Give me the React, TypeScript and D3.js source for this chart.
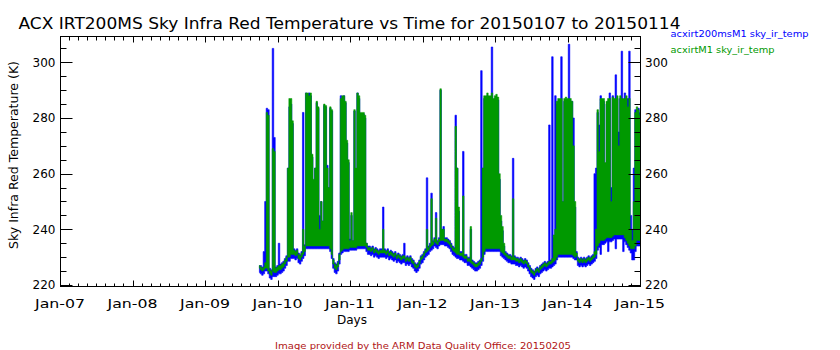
import React from "react";
import * as d3 from "d3";

// ---------- data ----------
const TITLE = "ACX IRT200MS Sky Infra Red Temperature vs Time for 20150107 to 20150114";
const Y_LABEL = "Sky Infra Red Temperature (K)";
const X_LABEL = "Days";
const FOOTER = "Image provided by the ARM Data Quality Office: 20150205";
const LEGEND_NAMES = ["acxirt200msM1 sky_ir_temp", "acxirtM1 sky_ir_temp"];
const DAY_LABELS = ["Jan-07", "Jan-08", "Jan-09", "Jan-10", "Jan-11", "Jan-12", "Jan-13", "Jan-14", "Jan-15"];
const Y_TICKS = [220, 240, 260, 280, 300];
const Y_MINOR = [225, 230, 235, 245, 250, 255, 265, 270, 275, 285, 290, 295, 305];
const X_START = Date.UTC(2015, 0, 7);
const X_END = Date.UTC(2015, 0, 15);
const Y_DOMAIN = [219.64, 309.45];
// 30-minute bins starting 2015-01-09 18:00 UTC; each bin holds the min and max of the 1-min samples
const SERIES_START = Date.UTC(2015, 0, 9, 18, 0);
const STEP_MINUTES = 30;

const BLUE_MIN = [
  224.5, 224, 223.5, 224, 225, 225, 224, 222.5, 222, 223,
  223, 223, 223.5, 224, 224, 224.5, 225, 226, 227, 228.5,
  228.5, 229.5, 229.5, 229.5, 229, 229.5, 228, 227.5, 228.5, 229.5,
  230.5, 233, 233, 233, 233, 233, 233, 233, 233, 233,
  233, 233, 233, 233, 233, 233, 233, 232, 229.5, 226,
  224.5, 224, 225, 227.5, 231, 231.5, 232, 232, 232, 232,
  232.5, 232.5, 232.5, 232.5, 232.5, 233, 233, 233, 233, 233,
  233, 232, 231, 231, 230.5, 231, 230, 230.5, 230, 229.5,
  230, 230, 230, 230, 229.5, 230, 229, 229.5, 229, 228.5,
  229, 228, 228.5, 228, 227.5, 228, 228, 227, 227.5, 227,
  227.5, 226.5, 226, 225, 224.5, 225, 226, 227.5, 228, 229,
  230, 230.5, 231, 232, 232.5, 233, 234, 233.5, 233, 234,
  234.5, 234.5, 234.5, 234, 234, 233.5, 233, 232, 231, 230.5,
  230, 229.5, 229.5, 229, 229, 228.5, 228, 228, 227, 227,
  226.5, 226, 225.5, 225, 225, 225.5, 226, 227, 228.5, 231,
  232, 232, 232, 232, 232, 232, 232, 232, 232, 232,
  230.5, 230, 229.5, 229, 228.5, 228, 228, 227.5, 227.5, 227.5,
  227, 227, 226.5, 227, 226.5, 226, 226.5, 226, 225, 224,
  223, 222.5, 222, 223, 223.5, 223, 224, 224.5, 225, 225.5,
  225, 225.5, 226, 226, 226.5, 227, 227.5, 229, 230, 230,
  230, 230, 230, 230, 230, 230, 230, 230, 229.5, 229,
  229, 227, 226.5, 227, 226.5, 227, 226.5, 227, 227.5, 227,
  227.5, 228, 228.5, 229.5, 232.5, 233.5, 231, 234.5, 234.5, 235,
  235.5, 232, 235.5, 235.5, 236, 236.5, 233, 236.5, 236.5, 236.5,
  236.5, 232, 235.5, 234.5, 233.5, 232.5, 231.5, 229, 229, 232,
  234, 234, 234,
];

const BLUE_MAX = [
  227, 227, 226.5, 232, 250, 283.5, 283, 226, 225.5, 305,
  273, 226.5, 227, 235, 227.5, 228, 228.5, 229.5, 230.5, 262,
  284, 285, 278, 233, 232.5, 233, 231.5, 231, 232, 282,
  234.5, 289, 288.5, 289, 288, 266, 257, 262, 285.5, 283.5,
  245, 250, 243, 284.5, 284, 263, 255, 283.5, 282.5, 229.5,
  228, 227.5, 228.5, 231.5, 288, 287, 288, 285.5, 271, 264,
  236.5, 245, 236, 282.5, 261, 289, 287, 281.5, 281.5, 281.5,
  280, 235, 234, 234, 233.5, 234, 233, 233.5, 233, 232.5,
  233, 233, 248, 233, 232.5, 233, 232, 232.5, 232, 231.5,
  232, 231, 231.5, 231, 230.5, 231, 235, 230, 230.5, 230,
  230.5, 229.5, 229, 228, 227.5, 228, 229, 230.5, 231, 232,
  233, 258.5, 234, 235, 253, 236, 237, 246, 236, 237,
  290, 240, 241, 237, 237, 236.5, 236, 235, 234, 233.5,
  281, 262, 246.5, 232, 232, 268, 231, 231, 230, 230,
  240, 229, 228.5, 228, 228, 228.5, 229, 297, 262, 287,
  287, 288, 287, 287, 305.5, 286, 287, 287.5, 286.5, 258,
  243, 239.5, 234, 232, 231.5, 231, 231, 230.5, 265.5, 230.5,
  230, 230, 229.5, 230, 229.5, 229, 229.5, 229, 228, 227,
  226, 225.5, 225, 226, 226.5, 226, 227, 227.5, 228, 228.5,
  228, 228.5, 277.5, 229, 302, 237, 288, 285, 286, 286,
  302, 250, 286, 286.5, 286, 306.5, 286, 286, 280, 248,
  232, 230, 229.5, 230, 229.5, 230, 229.5, 230, 230.5, 230,
  230.5, 231, 260, 262, 282, 277.5, 288, 286, 286, 262,
  285, 286, 289, 255, 288, 286, 295.5, 287, 275, 287,
  304, 286, 289, 287, 287, 304, 245, 240, 262, 283,
  283, 283.5, 282,
];

const GREEN_MIN = [
  226, 225.5, 225, 225.5, 226, 226, 225, 224, 223.5, 225,
  224.5, 224.5, 225, 225.5, 225.5, 226, 226.5, 227.5, 228.5, 230,
  230, 231, 231, 231, 230.5, 231, 229.5, 229, 230, 231,
  232, 234, 234, 234, 234, 234, 234, 234, 234, 234,
  234, 234, 234, 234, 234, 234, 234, 233, 231, 227.5,
  226, 225.5, 226.5, 229, 232, 232.5, 233, 233, 233, 233,
  233.5, 233.5, 233.5, 233.5, 233.5, 234, 234, 234, 234, 234,
  234, 233.5, 232.5, 232.5, 232, 232.5, 231.5, 232, 231.5, 231,
  231.5, 231.5, 231.5, 231.5, 231, 231.5, 230.5, 231, 230.5, 230,
  230.5, 229.5, 230, 229.5, 229, 229.5, 229.5, 228.5, 229, 228.5,
  229, 228, 227.5, 226.5, 226, 226.5, 227.5, 229, 229.5, 230.5,
  231.5, 232, 232.5, 233.5, 234, 234.5, 235.5, 235, 234.5, 235.5,
  236, 236, 236, 235.5, 235.5, 235, 234.5, 233.5, 232.5, 232,
  231.5, 231, 231, 230.5, 230.5, 230, 229.5, 229.5, 228.5, 228.5,
  228, 227.5, 227, 226.5, 226.5, 227, 227.5, 228.5, 230, 232,
  233, 233, 233, 233, 233, 233, 233, 233, 233, 233,
  232, 231.5, 231, 230.5, 230, 229.5, 229.5, 229, 229, 229,
  228.5, 228.5, 228, 228.5, 228, 227.5, 228, 227.5, 226.5, 225.5,
  224.5, 224, 223.5, 224.5, 225, 224.5, 225.5, 226, 226.5, 227,
  226.5, 227, 227.5, 227.5, 228, 228.5, 229, 230, 231, 231,
  231, 231, 231, 231, 231, 231, 231, 231, 230.5, 230,
  230.5, 228.5, 228, 228.5, 228, 228.5, 228, 228.5, 229, 228.5,
  229, 229.5, 230, 231, 234, 235, 236, 236, 236, 236.5,
  237, 237, 237, 237, 237.5, 238, 238, 238, 238, 238,
  238, 238, 237, 236, 235, 234, 233, 233, 233, 234,
  236, 236, 236,
];

const GREEN_MAX = [
  227, 226.5, 226, 226.5, 228, 282, 281, 225.5, 225, 269,
  268, 226, 226.5, 227, 227, 227.5, 228, 229, 230, 262,
  287, 287, 279, 232.5, 232, 232.5, 231, 230.5, 231.5, 240,
  234, 289, 289, 288, 289, 267, 258, 262, 286, 284,
  240, 250, 243, 285, 284.5, 262, 255, 284, 283, 229,
  227.5, 227, 228, 231, 287, 288, 288, 286, 272, 265,
  236, 246, 236, 283, 262, 289, 288, 282, 282, 282,
  281, 235, 233.5, 233.5, 233, 233.5, 232.5, 233, 232.5, 232,
  232.5, 232.5, 240, 232.5, 232, 232.5, 231.5, 232, 231.5, 231,
  231.5, 230.5, 231, 230.5, 230, 230.5, 230.5, 229.5, 230, 229.5,
  230, 229, 228.5, 227.5, 227, 227.5, 228.5, 230, 230.5, 231.5,
  232.5, 240, 233.5, 234.5, 251, 235.5, 236.5, 244, 235.5, 236.5,
  290.5, 240, 240, 236.5, 236.5, 236, 235.5, 234.5, 233.5, 233,
  277, 262, 248, 231.5, 231.5, 252, 230.5, 230.5, 229.5, 229.5,
  241, 228.5, 228, 227.5, 227.5, 228, 228.5, 229.5, 262, 288,
  288, 289, 288, 288, 289, 287, 288, 288.5, 287.5, 260,
  245, 241, 235, 231.5, 231, 230.5, 230.5, 230, 251, 230,
  229.5, 229.5, 229, 229.5, 229, 228.5, 229, 228.5, 227.5, 226.5,
  225.5, 225, 224.5, 225.5, 226, 225.5, 226.5, 227, 227.5, 228,
  227.5, 228, 228.5, 228.5, 229.5, 238, 240, 286, 287, 287,
  287, 250, 287, 287.5, 287, 287, 287, 286, 270, 250,
  231.5, 229.5, 229, 229.5, 229, 229.5, 229, 229.5, 230, 229.5,
  230, 230.5, 232, 240, 283, 268, 287, 287, 287, 264,
  286, 287, 287, 250, 287.5, 287, 287, 288, 270, 288,
  287, 287, 287, 288, 284, 287, 240, 236, 250, 282,
  284, 283, 281,
];

const COLORS = ["#0000ff", "#009900"];

// ---------- layout ----------
const W = 840;
const H = 350;
const L = 60, R = 640, T = 36, B = 286;
const FONT = "'DejaVu Sans', sans-serif";

type Bin = { t: number; lo: number; hi: number };
const toBins = (lo: number[], hi: number[]): Bin[] =>
  lo.map((v, i) => ({ t: SERIES_START + i * STEP_MINUTES * 60000, lo: v, hi: hi[i] }));

export default function App() {
  const x = d3.scaleUtc().domain([new Date(X_START), new Date(X_END)]).range([L, R]);
  const y = d3.scaleLinear().domain(Y_DOMAIN).range([B, T]);
  const area = d3
    .area<Bin>()
    .x((d) => x(new Date(d.t)))
    .y0((d) => y(d.lo))
    .y1((d) => y(d.hi))
    .curve(d3.curveStep);

  const days = d3.utcDay.range(new Date(X_START), new Date(X_END + 1));
  const minorX = d3.utcHour.every(3)!.range(new Date(X_START), new Date(X_END + 1));

  const blue = toBins(BLUE_MIN, BLUE_MAX);
  const green = toBins(GREEN_MIN, GREEN_MAX);

  return (
    <svg
      width={W}
      height={H}
      style={{ position: "absolute", left: 0, top: 0, background: "#fff" }}
      fontFamily={FONT}
    >
      <rect x={0} y={0} width={W} height={H} fill="#fff" />
      <defs>
        <clipPath id="plot">
          <rect x={L} y={T} width={R - L} height={B - T} />
        </clipPath>
      </defs>

      {/* title */}
      <text x={18.5} y={29} fontSize={16} textLength={662} lengthAdjust="spacingAndGlyphs" fill="#000">
        {TITLE}
      </text>

      {/* legend */}
      {LEGEND_NAMES.map((n, i) => (
        <text
          key={n}
          x={670.5}
          y={36.5 + i * 16}
          fontSize={9.5}
          fill={COLORS[i]}
          textLength={i === 0 ? 138 : 104}
          lengthAdjust="spacingAndGlyphs"
        >
          {n}
        </text>
      ))}

      {/* data */}
      <g clipPath="url(#plot)">
        <path d={area(blue) || ""} fill={COLORS[0]} stroke={COLORS[0]} strokeWidth={0.6} />
        <path d={area(green) || ""} fill={COLORS[1]} stroke={COLORS[1]} strokeWidth={0.5} />
      </g>

      {/* frame */}
      <rect x={L + 0.5} y={T + 0.5} width={R - L} height={B - T} fill="none" stroke="#000" strokeWidth={1} />

      {/* x minor ticks */}
      {minorX.map((d, i) => {
        const xx = Math.round(x(d)) + 0.5;
        return (
          <g key={"mx" + i} stroke="#000">
            <line x1={xx} x2={xx} y1={B + 0.5} y2={B - 2.5} />
            <line x1={xx} x2={xx} y1={T + 0.5} y2={T + 4.5} />
          </g>
        );
      })}
      {/* x major ticks + labels */}
      {days.map((d, i) => {
        const xx = Math.round(x(d)) + 0.5;
        return (
          <g key={"dx" + i}>
            <line x1={xx} x2={xx} y1={B + 0.5} y2={B - 5.5} stroke="#000" />
            <line x1={xx} x2={xx} y1={T + 0.5} y2={T + 6.5} stroke="#000" />
            <text
              x={x(d)}
              y={308}
              fontSize={12}
              textAnchor="middle"
              textLength={50}
              lengthAdjust="spacingAndGlyphs"
              fill="#000"
            >
              {DAY_LABELS[i]}
            </text>
          </g>
        );
      })}

      {/* y minor ticks */}
      {Y_MINOR.map((v) => {
        const yy = Math.round(y(v)) + 0.5;
        return (
          <g key={"my" + v} stroke="#000">
            <line x1={L + 0.5} x2={L + 6.5} y1={yy} y2={yy} />
            <line x1={R + 0.5} x2={R - 5.5} y1={yy} y2={yy} />
          </g>
        );
      })}
      {/* y major ticks + labels */}
      {Y_TICKS.map((v) => {
        const yy = Math.round(y(v)) + 0.5;
        return (
          <g key={"y" + v}>
            <line x1={L + 0.5} x2={L + 12.5} y1={yy} y2={yy} stroke="#000" />
            <line x1={R + 0.5} x2={R - 11.5} y1={yy} y2={yy} stroke="#000" />
            <text x={55.5} y={y(v) + 4.3} fontSize={12} textAnchor="end" fill="#000">
              {v}
            </text>
            <text x={645} y={y(v) + 4.3} fontSize={12} textAnchor="start" fill="#000">
              {v}
            </text>
          </g>
        );
      })}

      {/* axis titles */}
      <text
        transform="translate(17.5,155) rotate(-90)"
        fontSize={12.5}
        textAnchor="middle"
        textLength={188}
        lengthAdjust="spacingAndGlyphs"
        fill="#000"
      >
        {Y_LABEL}
      </text>
      <text x={352} y={323.5} fontSize={12} textAnchor="middle" textLength={30} lengthAdjust="spacingAndGlyphs" fill="#000">
        {X_LABEL}
      </text>
      <text x={423} y={349} fontSize={9.5} textAnchor="middle" textLength={296} lengthAdjust="spacingAndGlyphs" fill="#b01515">
        {FOOTER}
      </text>
    </svg>
  );
}
